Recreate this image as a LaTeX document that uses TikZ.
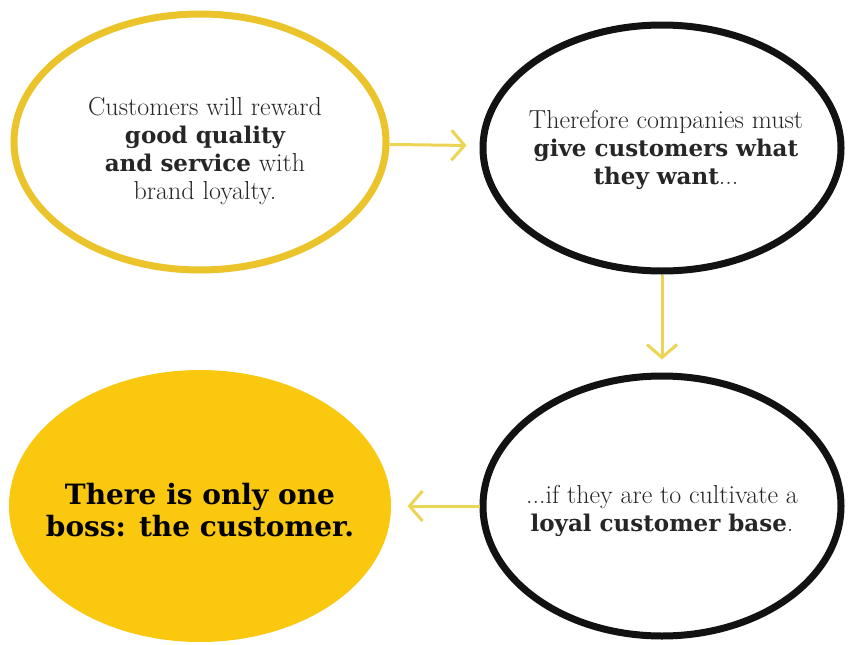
\documentclass[tikz,border=0pt]{standalone}
\usepackage{fontspec}
\newfontfamily\slabfont{DejaVu Serif}
\usetikzlibrary{arrows.meta,shapes.geometric}
\definecolor{ringyellow}{RGB}{234,196,42}
\definecolor{bossyellow}{RGB}{250,200,14}
\definecolor{arrowyellow}{RGB}{236,212,84}
\definecolor{ringblack}{RGB}{18,18,18}
\definecolor{inkgray}{RGB}{38,38,38}
\newcommand{\strongword}[1]{{\slabfont\bfseries\fontsize{23}{28}\selectfont #1}}

\begin{document}
\begin{tikzpicture}[x=1pt, y=-1pt, >={Straight Barb[length=13pt,width=30pt]},
    bubble/.style={ellipse, line width=7pt, inner sep=0pt},
    words/.style={align=center, text=inkgray, font=\fontsize{26}{28}\selectfont},
    flow/.style={->, arrowyellow, line width=3pt, shorten >=13pt}]
    % Rahmen
    \useasboundingbox (0,0) rectangle (849,645);

    % Blasen
    \node[bubble, draw=ringyellow, minimum width=372pt, minimum height=256pt,
        label={[words, xshift=5pt, yshift=-9pt]center:Customers will reward\\ \strongword{good quality}\\ \strongword{and service} with\\ brand loyalty.}]
        (reward) at (200,142) {};
    \node[bubble, draw=ringblack, minimum width=358pt, minimum height=246pt,
        label={[words, xshift=4pt, yshift=-2pt]center:Therefore companies must\\ \strongword{give customers what}\\ \strongword{they want}...}]
        (want) at (662,148) {};
    \node[bubble, draw=ringblack, minimum width=358pt, minimum height=260pt,
        label={[words, yshift=-5pt]center:...if they are to cultivate a\\ \strongword{loyal customer base}.}]
        (loyal) at (662,506) {};
    \node[bubble, fill=bossyellow, minimum width=382pt, minimum height=272pt,
        label={[words, text=black, yshift=-4pt, font=\fontsize{28}{32}\slabfont\bfseries]center:There is only one\\ boss: the customer.}]
        (boss) at (200,506) {};

    % Pfeile
    \draw[flow] (reward) -- (want);
    \draw[flow] (want) -- (loyal);
    \draw[flow] (loyal) -- (boss);
\end{tikzpicture}
\end{document}
